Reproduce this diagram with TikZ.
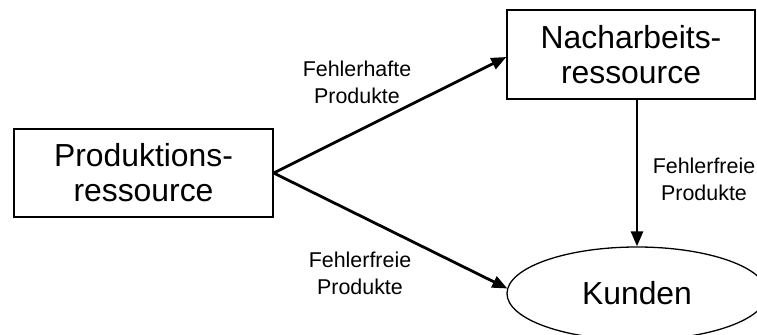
\documentclass[tikz,border=0pt]{standalone}
\usepackage{fontspec}
\setmainfont{Liberation Sans}
\usetikzlibrary{arrows.meta,shapes.geometric}
\begin{document}
\begin{tikzpicture}[x=1bp,y=1bp,
  box/.style={draw,line width=1.3bp,inner sep=0pt,align=center,
    font=\fontsize{32}{35}\selectfont},
  lbl/.style={align=center,inner sep=0pt,font=\fontsize{21.5}{27}\selectfont},
  flow/.style={line width=2.8bp,-{Triangle[length=15bp,width=12bp]}}]
\useasboundingbox (0,0) rectangle (757,334);
\clip (0,0) rectangle (757,334);
\node[box,minimum width=259bp,minimum height=88bp] (prod) at (143.5,161)
  {Produktions-\\ressource};
\node[box,minimum width=248bp,minimum height=89bp] (nach) at (631,279.5)
  {Nacharbeits-\\ressource};
\node[box,ellipse,minimum width=260bp,minimum height=93bp] (kunden) at (637,40.5)
  {Kunden};
\draw[flow] (prod.east) -- ([yshift=-2.5bp]nach.west);
\draw[flow] (prod.east) -- ([shift={(1bp,5bp)}]kunden.west);
\draw[flow] (kunden.north |- nach.south) -- (kunden.north);
\node[lbl] (l1) at (357,252) {Fehlerhafte\\Produkte};
\node[lbl] (l2) at (360,61) {Fehlerfreie\\Produkte};
\node[lbl] (l3) at (704,155) {Fehlerfreie\\Produkte};
\end{tikzpicture}
\end{document}
